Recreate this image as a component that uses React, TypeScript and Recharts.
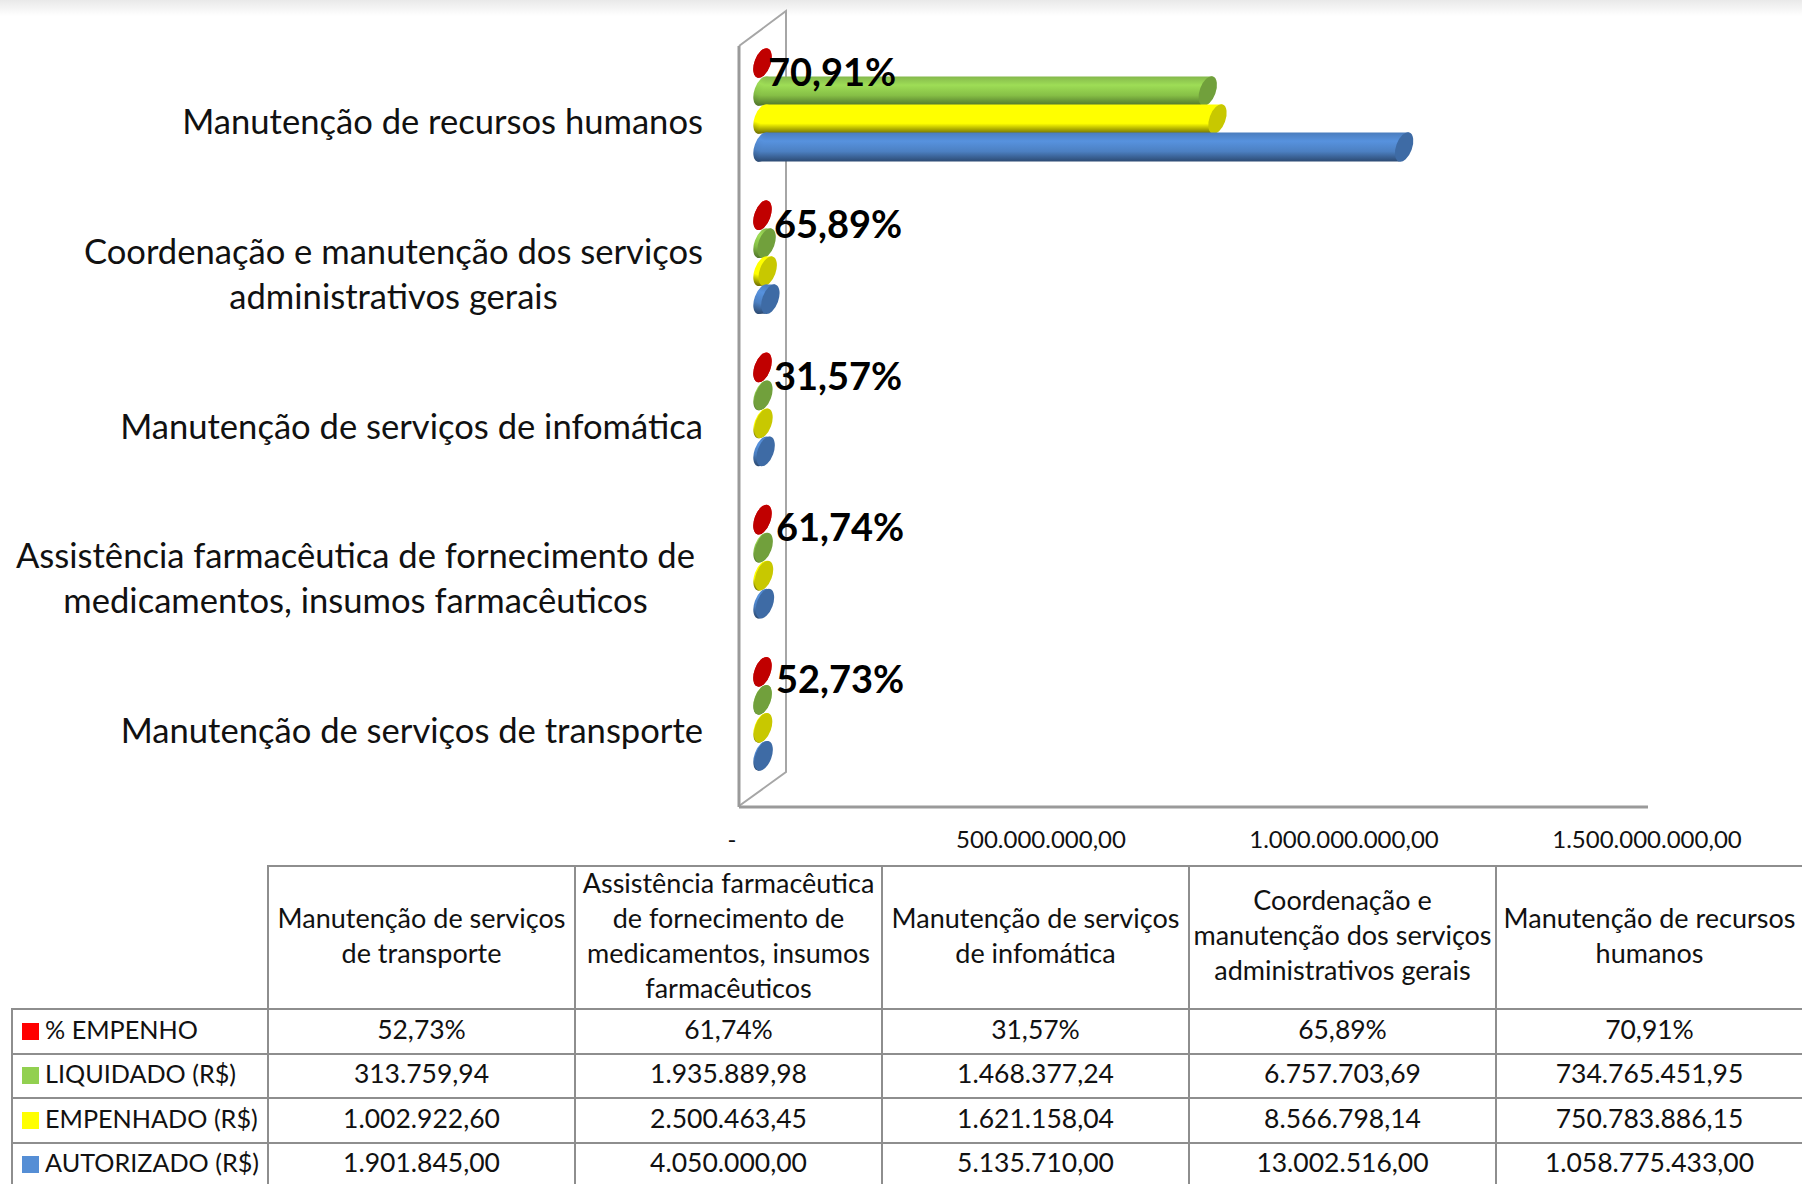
import React from "react";
import { BarChart, Bar, XAxis, YAxis, Customized, LabelList } from "recharts";

const categoryNames = [
  "Manutenção de recursos humanos",
  "Coordenação e manutenção dos serviços administrativos gerais",
  "Manutenção de serviços de infomática",
  "Assistência farmacêutica de fornecimento de medicamentos, insumos farmacêuticos",
  "Manutenção de serviços de transporte",
];
const axisLabelLines = [
  ["Manutenção de recursos humanos"],
  ["Coordenação e manutenção dos serviços", "administrativos gerais"],
  ["Manutenção de serviços de infomática"],
  ["Assistência farmacêutica de fornecimento de", "medicamentos, insumos farmacêuticos"],
  ["Manutenção de serviços de transporte"],
];
const headerLines = [
  ["Manutenção de recursos", "humanos"],
  ["Coordenação e", "manutenção dos serviços", "administrativos gerais"],
  ["Manutenção de serviços", "de infomática"],
  ["Assistência farmacêutica", "de fornecimento de", "medicamentos, insumos", "farmacêuticos"],
  ["Manutenção de serviços", "de transporte"],
];
const empenhoPct = [70.91, 65.89, 31.57, 61.74, 52.73];
const liquidado = [734765451.95, 6757703.69, 1468377.24, 1935889.98, 313759.94];
const empenhado = [750783886.15, 8566798.14, 1621158.04, 2500463.45, 1002922.6];
const autorizado = [1058775433.0, 13002516.0, 5135710.0, 4050000.0, 1901845.0];
const axisTicks = [0, 500000000, 1000000000, 1500000000];

const FONT = "Lato, Carlito, Calibri, sans-serif";
const GRID = "#8e8e8e";

const data = categoryNames.map((name, i) => ({
  name,
  pct: empenhoPct[i],
  liq: liquidado[i],
  emp: empenhado[i],
  aut: autorizado[i],
}));

const brl = (v: number) =>
  v.toLocaleString("pt-BR", { minimumFractionDigits: 2, maximumFractionDigits: 2 });
const pctText = (v: number) => brl(v) + "%";

const rows = [
  { label: "% EMPENHO", color: "#ff0000", cells: empenhoPct.map(pctText) },
  { label: "LIQUIDADO (R$)", color: "#92d050", cells: liquidado.map(brl) },
  { label: "EMPENHADO (R$)", color: "#ffff00", cells: empenhado.map(brl) },
  { label: "AUTORIZADO (R$)", color: "#558ed5", cells: autorizado.map(brl) },
];

const DEPTH_X = 23.5;
const DEPTH_Y = 17;

const makeCylinder = (id: string, cap: string) => (props: any) => {
  const { x, y, width, height } = props;
  const cx0 = x + DEPTH_X;
  const cy = y + height / 2 - DEPTH_Y;
  const w = Math.max(width, 0);
  const rx = 8;
  const ry = 15.5;
  const skew = 5;
  const half = 14.6;
  return (
    <g>
      <ellipse cx={cx0} cy={cy} rx={rx} ry={ry} transform={`rotate(20 ${cx0} ${cy})`} fill={`url(#${id})`} />
      {w > 0.5 && (
        <path
          d={`M${cx0 + skew},${cy - half} L${cx0 + w + skew},${cy - half} L${cx0 + w - skew},${cy + half} L${cx0 - skew},${cy + half} Z`}
          fill={`url(#${id})`}
        />
      )}
      <ellipse cx={cx0 + w} cy={cy} rx={rx} ry={ry} transform={`rotate(20 ${cx0 + w} ${cy})`} fill={cap} />
    </g>
  );
};

const labelNudgeX = [-6, 0, 0, 2, 2];
const labelNudgeY = [0, 0, 0, -1, -2];

const PctLabel = (props: any) => {
  const { x, y, height, index, value } = props;
  return (
    <text
      x={x + 35 + labelNudgeX[index]}
      y={y + height / 2 - 17 + 13 + labelNudgeY[index]}
      dominantBaseline="middle"
      fontFamily={FONT}
      fontWeight={700}
      fontSize={38}
      fill="#000"
    >
      {pctText(value)}
    </text>
  );
};

let measureCtx: CanvasRenderingContext2D | null = null;
const measure = (t: string, font: string) => {
  if (!measureCtx) measureCtx = document.createElement("canvas").getContext("2d");
  measureCtx!.font = font;
  return measureCtx!.measureText(t).width;
};

const CategoryTick = (props: any) => {
  const { y, index } = props;
  const lines = axisLabelLines[index];
  const size = 34.6;
  const widest = Math.max(...lines.map((l) => measure(l, `${size}px Lato`)));
  const right = index === 3 ? 695 : 703;
  const cx = right - widest / 2;
  const pitch = 45;
  return (
    <text textAnchor="middle" fontFamily={FONT} fontSize={size} fill="#111">
      {lines.map((l, i) => (
        <tspan key={i} x={cx} y={y + 12 + (i - (lines.length - 1) / 2) * pitch}>
          {l}
        </tspan>
      ))}
    </text>
  );
};

const ValueTick = (props: any) => {
  const { x, y, payload } = props;
  const zero = payload.value === 0;
  return (
    <text x={zero ? x - 7 : x - 1} y={y + 33} textAnchor="middle" fontFamily={FONT} fontSize={24} fill="#111">
      {zero ? "-" : brl(payload.value)}
    </text>
  );
};

const Wall = () => (
  <g fill="none" stroke="#a6a6a6" strokeWidth={2}>
    <polyline points="739,46 786,11 786,772 739,806" />
  </g>
);

const Gradients = () => (
  <defs>
    <linearGradient id="gGreen" x1="0" y1="0" x2="0" y2="1">
      <stop offset="0" stopColor="#84b84c" />
      <stop offset="0.3" stopColor="#9edd56" />
      <stop offset="0.65" stopColor="#86bf46" />
      <stop offset="1" stopColor="#50752a" />
    </linearGradient>
    <linearGradient id="gYellow" x1="0" y1="0" x2="0" y2="1">
      <stop offset="0" stopColor="#ffff00" />
      <stop offset="0.65" stopColor="#ffff00" />
      <stop offset="1" stopColor="#6e6e00" />
    </linearGradient>
    <linearGradient id="gBlue" x1="0" y1="0" x2="0" y2="1">
      <stop offset="0" stopColor="#4a7cbd" />
      <stop offset="0.3" stopColor="#5792de" />
      <stop offset="0.65" stopColor="#4c80c2" />
      <stop offset="1" stopColor="#2c4a72" />
    </linearGradient>
    <linearGradient id="gRed" x1="0" y1="0" x2="0" y2="1">
      <stop offset="0" stopColor="#ff2020" />
      <stop offset="1" stopColor="#a00000" />
    </linearGradient>
  </defs>
);

const cellBase: React.CSSProperties = {
  border: `2px solid ${GRID}`,
  textAlign: "center",
  verticalAlign: "middle",
  padding: "0 0 4px 0",
  fontFamily: FONT,
  fontSize: 26.5,
  lineHeight: "35px",
  color: "#111",
  whiteSpace: "nowrap",
  overflow: "hidden",
};

export default function App() {
  return (
    <div style={{ position: "absolute", left: 0, top: 0, width: 1802, height: 1184, overflow: "hidden", background: "#fff" }}>
      <div style={{ position: "absolute", left: 0, top: 0, width: 1802, height: 16, background: "linear-gradient(#e9e9e9, #ffffff)" }} />
      <div style={{ position: "absolute", left: 0, top: 0 }}>
        <BarChart
          width={1802}
          height={861}
          data={data}
          layout="vertical"
          margin={{ top: 46, right: 154, bottom: 0, left: 0 }}
          barSize={28}
          barGap={0}
          style={{ background: "transparent" }}
        >
          <Customized component={Gradients} />
          <Customized component={Wall} />
          <XAxis
            type="number"
            domain={[0, 1500000000]}
            ticks={axisTicks}
            tick={ValueTick}
            tickLine={false}
            axisLine={{ stroke: "#9a9a9a", strokeWidth: 3 }}
            height={54}
            interval={0}
          />
          <YAxis
            type="category"
            dataKey="name"
            width={739}
            tick={CategoryTick}
            tickLine={false}
            axisLine={{ stroke: "#9a9a9a", strokeWidth: 3 }}
            interval={0}
          />
          <Bar dataKey="pct" isAnimationActive={false} shape={makeCylinder("gRed", "#c00000")}>
            <LabelList dataKey="pct" content={PctLabel} />
          </Bar>
          <Bar dataKey="liq" isAnimationActive={false} shape={makeCylinder("gGreen", "#71a03c")} />
          <Bar dataKey="emp" isAnimationActive={false} shape={makeCylinder("gYellow", "#c8c800")} />
          <Bar dataKey="aut" isAnimationActive={false} shape={makeCylinder("gBlue", "#3e6ba5")} />
        </BarChart>
      </div>
      <table
        style={{
          position: "absolute",
          left: 11,
          top: 865,
          borderCollapse: "collapse",
          tableLayout: "fixed",
          width: 256 + 307 * 5,
        }}
      >
        <colgroup>
          <col style={{ width: 256 }} />
          {categoryNames.map((_, i) => (
            <col key={i} style={{ width: 307 }} />
          ))}
        </colgroup>
        <tbody>
          <tr style={{ height: 143 }}>
            <td style={{ ...cellBase, padding: 0, borderTop: "none", borderLeft: "none" }} />
            {[...headerLines].reverse().map((lines, i) => (
              <td key={i} style={{ ...cellBase, padding: 0, fontSize: 27 }}>
                <div style={{ position: "relative", top: -3 }}>
                  {lines.map((l, j) => (
                    <div key={j}>{l}</div>
                  ))}
                </div>
              </td>
            ))}
          </tr>
          {rows.map((r) => (
            <tr key={r.label} style={{ height: 44.5 }}>
              <td style={{ ...cellBase, textAlign: "left", paddingLeft: 9, fontSize: 25.2 }}>
                <span
                  style={{
                    display: "inline-block",
                    width: 17,
                    height: 17,
                    background: r.color,
                    marginRight: 6,
                    verticalAlign: "-1px",
                  }}
                />
                {r.label}
              </td>
              {[...r.cells].reverse().map((c, i) => (
                <td key={i} style={cellBase}>
                  {c}
                </td>
              ))}
            </tr>
          ))}
        </tbody>
      </table>
    </div>
  );
}
